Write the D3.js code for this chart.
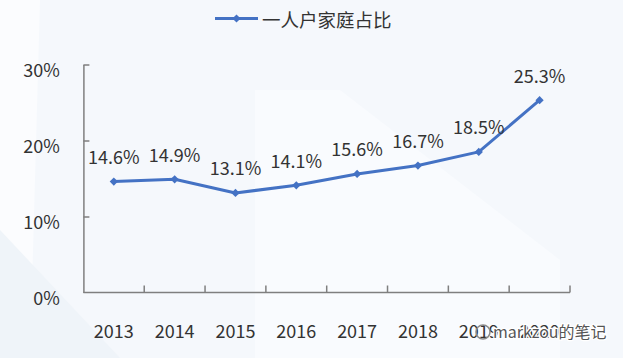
<!DOCTYPE html>
<html><head><meta charset="utf-8">
<script src="https://cdn.jsdelivr.net/npm/d3@7"></script>
<style>html,body{margin:0;padding:0;background:#fff;}svg{display:block;}</style>
</head><body>
<svg id="c" width="623" height="358"></svg>
<script>
const years = ["2013","2014","2015","2016","2017","2018","2019","2020"];
const values = [14.6, 14.9, 13.1, 14.1, 15.6, 16.7, 18.5, 25.3];
const valueLabels = ["14.6%","14.9%","13.1%","14.1%","15.6%","16.7%","18.5%","25.3%"];
const yTicks = [0, 10, 20, 30];
const seriesName = "一人户家庭占比";

const W = 623, H = 358;
const svg = d3.select("#c");
const font = "'Noto Sans CJK SC','Noto Sans',sans-serif";
const blue = "#4472C4";
const textCol = "#333333";

// background
svg.append("rect").attr("width", W).attr("height", H).attr("fill", "#f5f8fc");
svg.append("path").attr("d", "M0,0 L40,0 L30,358 L0,358 Z").attr("fill", "#fbfcfe");
svg.append("path").attr("d", "M255,90 L340,90 L560,260 L560,358 L255,358 Z").attr("fill", "#f9fbfe");
svg.append("path").attr("d", "M0,230 L120,358 L0,358 Z").attr("fill", "#eff4f9");

const x = d3.scaleBand().domain(years).range([83.4, 570]);
const y = d3.scaleLinear().domain([0, 30]).range([292.5, 64.5]);

// y axis
const gy = svg.append("g").attr("transform", "translate(83.4,0)")
  .call(d3.axisLeft(y).tickValues(yTicks).tickFormat(d => d + "%").tickSizeInner(-6).tickSizeOuter(0).tickPadding(23.5));
gy.selectAll("path,line").attr("stroke", "#7f7f7f").attr("stroke-width", 1.5);
gy.selectAll("text").attr("font-family", font).attr("font-size", 18).attr("fill", textCol).attr("dy", "0.68em");
gy.selectAll(".tick line").filter(d => d === 0).remove();

// x axis labels
const gx = svg.append("g").attr("transform", "translate(0,292.5)")
  .call(d3.axisBottom(x).tickSize(0).tickPadding(0));
gx.select(".domain").remove();
gx.selectAll("text").attr("font-family", font).attr("font-size", 18).attr("fill", textCol)
  .attr("y", 39.5).attr("dy", "0.35em");

// x axis line + boundary ticks
svg.append("line").attr("x1", x.range()[0]).attr("x2", x.range()[1]).attr("y1", y(0)).attr("y2", y(0))
  .attr("stroke", "#7f7f7f").attr("stroke-width", 1.5);
const bounds = years.map(d => x(d)).concat([x.range()[1]]).slice(1);
svg.selectAll("line.xt").data(bounds).join("line").attr("class", "xt")
  .attr("x1", d => d).attr("x2", d => d).attr("y1", y(0)).attr("y2", y(0) - 7)
  .attr("stroke", "#7f7f7f").attr("stroke-width", 1.5);

// line
const cx = d => x(d) + x.bandwidth() / 2;
const data = years.map((d, i) => ({ year: d, v: values[i], label: valueLabels[i] }));
svg.append("path").datum(data)
  .attr("d", d3.line().x(d => cx(d.year)).y(d => y(d.v)))
  .attr("fill", "none").attr("stroke", blue).attr("stroke-width", 3).attr("stroke-linejoin", "round");
const diamond = d3.symbol().type(d3.symbolSquare).size(34);
svg.selectAll("path.m").data(data).join("path").attr("class", "m")
  .attr("d", diamond).attr("transform", d => `translate(${cx(d.year)},${y(d.v)}) rotate(45)`).attr("fill", blue);
svg.selectAll("text.v").data(data).join("text").attr("class", "v")
  .attr("x", d => cx(d.year)).attr("y", d => y(d.v) - 24).attr("dy", "0.35em")
  .attr("text-anchor", "middle").attr("font-family", font).attr("font-size", 18).attr("fill", textCol)
  .text(d => d.label);

// legend
const lg = svg.append("g");
lg.append("line").attr("x1", 215).attr("x2", 258).attr("y1", 18.5).attr("y2", 18.5).attr("stroke", blue).attr("stroke-width", 3);
lg.append("path").attr("d", diamond).attr("transform", "translate(236.5,18.5) rotate(45)").attr("fill", blue);
lg.append("text").attr("x", 262).attr("y", 21).attr("dy", "0.35em").attr("font-family", font)
  .attr("font-size", 18.5).attr("fill", textCol).text(seriesName);

// watermark
const wm = svg.append("g");
wm.append("circle").attr("cx", 483).attr("cy", 332).attr("r", 7).attr("fill", "none").attr("stroke", "#8a8a8a").attr("stroke-width", 1.5);
wm.append("text").attr("x", 493).attr("y", 332).attr("dy", "0.35em").attr("font-family", font).attr("font-size", 16)
  .attr("fill", "#555").attr("stroke", "#fff").attr("stroke-width", 2.5).attr("paint-order", "stroke").text("markzou的笔记");
</script>
</body></html>
